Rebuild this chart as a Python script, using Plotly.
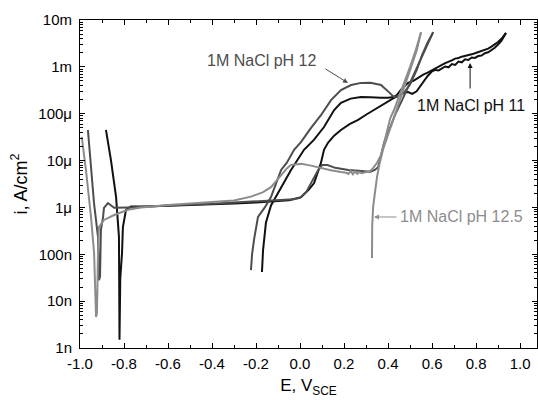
import numpy as np
import plotly.graph_objects as go

# ---------------- data (E in V vs SCE, i in A/cm2) ----------------
E_ph11_fwd = [-0.882, -0.859, -0.836, -0.823, -0.8205, -0.817, -0.809, -0.805, -0.791, -0.768,
              -0.70, -0.60, -0.50, -0.40, -0.30, -0.20, -0.10, -0.05, 0.005, 0.04, 0.064, 0.082,
              0.095, 0.109, 0.127, 0.155, 0.186, 0.225, 0.264, 0.30, 0.336, 0.38, 0.427, 0.45,
              0.47, 0.491, 0.51, 0.53, 0.545, 0.559, 0.58,
              0.60, 0.615, 0.63, 0.645, 0.66, 0.675, 0.69, 0.705, 0.72, 0.735, 0.75, 0.765, 0.78,
              0.795, 0.81, 0.825, 0.84, 0.855, 0.87, 0.885, 0.90, 0.915, 0.936]
i_ph11_fwd = [45e-6, 10e-6, 1.66e-6, 2.35e-7, 1.5e-9, 3e-8, 1.07e-7, 3.8e-7, 8.9e-7, 1.05e-6,
              1.05e-6, 1.08e-6, 1.12e-6, 1.17e-6, 1.22e-6, 1.28e-6, 1.35e-6, 1.42e-6, 1.66e-6, 2.4e-6,
              3.3e-6, 6.3e-6, 8.9e-6, 17e-6, 24e-6, 34e-6, 45e-6, 60e-6, 74e-6, 95e-6, 120e-6, 165e-6,
              218e-6, 240e-6, 285e-6, 290e-6, 265e-6, 300e-6, 380e-6, 455e-6, 640e-6,
              0.80e-3, 0.86e-3, 0.84e-3, 0.92e-3, 1.02e-3, 0.98e-3, 1.15e-3, 1.10e-3, 1.30e-3, 1.25e-3,
              1.45e-3, 1.40e-3, 1.58e-3, 1.55e-3, 1.70e-3, 1.75e-3, 1.95e-3, 2.05e-3, 2.30e-3, 2.55e-3,
              3.0e-3, 3.6e-3, 5.3e-3]

E_ph11_rev = [0.936, 0.92, 0.90, 0.885, 0.87, 0.855, 0.84, 0.825, 0.81, 0.795, 0.78, 0.765, 0.75,
              0.735, 0.72, 0.705, 0.69, 0.675, 0.66, 0.645, 0.63, 0.615, 0.60, 0.58, 0.56, 0.536,
              0.515, 0.491, 0.46, 0.44, 0.427, 0.40, 0.368, 0.32, 0.277, 0.23, 0.186, 0.155, 0.141,
              0.109, 0.064, 0.018, -0.041, -0.10, -0.132, -0.155, -0.168, -0.173]
i_ph11_rev = [5.3e-3, 4.2e-3, 3.4e-3, 3.0e-3, 2.7e-3, 2.45e-3, 2.3e-3, 2.15e-3, 2.0e-3, 1.95e-3,
              1.85e-3, 1.8e-3, 1.7e-3, 1.65e-3, 1.55e-3, 1.5e-3, 1.38e-3, 1.3e-3, 1.2e-3, 1.1e-3,
              1.0e-3, 0.92e-3, 0.86e-3, 750e-6, 680e-6, 575e-6, 500e-6, 455e-6, 330e-6, 250e-6,
              228e-6, 220e-6, 218e-6, 225e-6, 228e-6, 210e-6, 170e-6, 120e-6, 93e-6, 52e-6, 28e-6,
              17e-6, 6.3e-6, 2.0e-6, 1.1e-6, 4.7e-7, 1.23e-7, 4.2e-8]

E_ph12_fwd = [-0.964, -0.950, -0.936, -0.918, -0.914, -0.909, -0.905, -0.895, -0.891, -0.873,
              -0.845, -0.782, -0.70, -0.60, -0.50, -0.40, -0.30, -0.20, -0.10, -0.03, 0.0, 0.03,
              0.05, 0.08, 0.10, 0.125, 0.16, 0.22, 0.28, 0.32, 0.34, 0.355, 0.382, 0.41, 0.436,
              0.465, 0.491, 0.52, 0.55, 0.58, 0.605]
i_ph12_fwd = [45e-6, 6.3e-6, 1.2e-6, 2.3e-7, 2.8e-8, 3.3e-8, 3.3e-7, 6.3e-7, 9.8e-7, 1.24e-6,
              9.8e-7, 1.0e-6, 1.05e-6, 1.1e-6, 1.15e-6, 1.2e-6, 1.27e-6, 1.33e-6, 1.42e-6, 1.5e-6,
              1.6e-6, 2.2e-6, 3.3e-6, 6.0e-6, 8.0e-6, 8.0e-6, 7.0e-6, 6.3e-6, 6.0e-6, 5.8e-6,
              6.3e-6, 7.2e-6, 24e-6, 50e-6, 105e-6, 200e-6, 370e-6, 750e-6, 1.6e-3, 3.2e-3, 5.5e-3]

E_ph12_rev = [0.605, 0.58, 0.555, 0.53, 0.50, 0.47, 0.445, 0.427, 0.40, 0.368, 0.32, 0.277,
              0.232, 0.186, 0.141, 0.095, 0.05, 0.005, -0.027, -0.06, -0.086, -0.11, -0.132,
              -0.16, -0.191, -0.209, -0.218, -0.223]
i_ph12_rev = [5.5e-3, 3.3e-3, 1.8e-3, 850e-6, 420e-6, 270e-6, 235e-6, 228e-6, 300e-6, 410e-6,
              460e-6, 455e-6, 410e-6, 320e-6, 195e-6, 93e-6, 50e-6, 25e-6, 17e-6, 9e-6, 6.3e-6,
              3.3e-6, 1.66e-6, 1.0e-6, 6.3e-7, 2.05e-7, 1.0e-7, 4.6e-8]

E_ph125_fwd = [-0.992, -0.973, -0.950, -0.936, -0.927, -0.923, -0.918, -0.914, -0.891, -0.845,
               -0.782, -0.723, -0.60, -0.50, -0.40, -0.30, -0.223, -0.17, -0.132, -0.086, -0.06,
               -0.041, 0.005, 0.05, 0.095, 0.14, 0.186, 0.21, 0.22, 0.23, 0.24, 0.25, 0.26, 0.27,
               0.28, 0.30, 0.32, 0.332, 0.35, 0.368, 0.39, 0.41, 0.427, 0.45, 0.473, 0.50, 0.525,
               0.55]
i_ph125_fwd = [32e-6, 6.3e-6, 6.3e-7, 1.07e-7, 4.6e-9, 5.6e-9, 1.07e-7, 3.8e-7, 5.4e-7, 6.9e-7,
               8.9e-7, 1.0e-6, 1.12e-6, 1.2e-6, 1.28e-6, 1.4e-6, 1.7e-6, 2.1e-6, 2.7e-6, 4.9e-6,
               6.8e-6, 8.1e-6, 8.5e-6, 7.8e-6, 6.9e-6, 6.2e-6, 5.7e-6, 5.5e-6, 5.2e-6, 6.0e-6,
               5.1e-6, 5.9e-6, 5.2e-6, 5.7e-6, 5.4e-6, 5.6e-6, 6.0e-6, 6.9e-6, 9e-6, 13e-6, 35e-6,
               80e-6, 120e-6, 230e-6, 455e-6, 1.0e-3, 2.2e-3, 5.5e-3]

E_ph125_rev = [0.55, 0.53, 0.505, 0.48, 0.455, 0.433, 0.414, 0.395, 0.377, 0.36, 0.35, 0.34,
               0.332, 0.328, 0.327, 0.327]
i_ph125_rev = [5.5e-3, 2.2e-3, 1.0e-3, 455e-6, 200e-6, 100e-6, 58e-6, 30e-6, 17e-6, 8e-6,
               4.5e-6, 2.0e-6, 1.0e-6, 4.0e-7, 1.5e-7, 8.3e-8]

x_tickvals = [-1.0, -0.8, -0.6, -0.4, -0.2, 0.0, 0.2, 0.4, 0.6, 0.8, 1.0]
x_ticktext = ["-1.0", "-0.8", "-0.6", "-0.4", "-0.2", "0.0", "0.2", "0.4", "0.6", "0.8", "1.0"]
y_tickvals = [1e-9, 1e-8, 1e-7, 1e-6, 1e-5, 1e-4, 1e-3, 1e-2]
y_ticktext = ["1n", "10n", "100n", "1μ", "10μ", "100μ", "1m", "10m"]

labels = ["1M NaCl pH 11", "1M NaCl pH 12", "1M NaCl pH 12.5"]

# ---------------- figure ----------------
FONT = "Liberation Sans, Arial, sans-serif"
c11, c12, c125 = "#111111", "#4d4d4d", "#8c8c8c"

fig = go.Figure()
series = [
    (E_ph11_fwd, i_ph11_fwd, c11), (E_ph11_rev, i_ph11_rev, c11),
    (E_ph12_fwd, i_ph12_fwd, c12), (E_ph12_rev, i_ph12_rev, c12),
    (E_ph125_fwd, i_ph125_fwd, c125), (E_ph125_rev, i_ph125_rev, c125),
]
for E, i, c in series:
    fig.add_trace(go.Scatter(x=E, y=i, mode="lines", line=dict(color=c, width=2),
                             showlegend=False, hoverinfo="skip"))

def arrow(x, y, ax, ay, color):
    fig.add_annotation(x=x, y=np.log10(y), ax=ax, ay=ay, axref="pixel", ayref="pixel",
                       text="", showarrow=True, arrowhead=2, arrowsize=1, arrowwidth=1,
                       arrowcolor=color, standoff=0)

def label(x, y, text, color):
    fig.add_annotation(x=x, y=np.log10(y), text=text, showarrow=False, xanchor="left",
                       yanchor="middle", font=dict(family=FONT, size=16, color=color))

arrow(0.218, 4.53e-4, -24, -15, c12)
label(-0.430, 1.40e-3, labels[1], c12)
arrow(0.773, 1.21e-3, 0, 27, c11)
label(0.522, 1.53e-4, labels[0], c11)
arrow(0.336, 6.25e-7, 24, 0, c125)
label(0.444, 6.25e-7, labels[2], c125)

axis_common = dict(showline=True, linecolor="black", linewidth=1, mirror="ticks",
                   ticks="inside", ticklen=5, tickcolor="black", showgrid=False,
                   zeroline=False, tickfont=dict(family=FONT, size=15, color="black"),
                   automargin=False)

fig.update_xaxes(range=[-1.0, 1.077], tickmode="array", tickvals=x_tickvals,
                 ticktext=x_ticktext, ticklabelstandoff=2,
                 minor=dict(ticks="inside", ticklen=3, dtick=0.1, tick0=-1.0, tickcolor="black"),
                 title=dict(text="E, V<sub>SCE</sub>", font=dict(family=FONT, size=17),
                            standoff=8),
                 **axis_common)
fig.update_yaxes(type="log", range=[-9, -2], tickmode="array", tickvals=y_tickvals,
                 ticktext=y_ticktext, ticklabelstandoff=4,
                 minor=dict(ticks="inside", ticklen=3, dtick="D1", tickcolor="black"),
                 title=dict(text="i, A/cm<sup>2</sup>", font=dict(family=FONT, size=18),
                            standoff=6),
                 **axis_common)

fig.update_layout(width=538, height=400, margin=dict(l=80, r=1, t=20, b=52),
                  plot_bgcolor="white", paper_bgcolor="white",
                  font=dict(family=FONT, color="black"))

fig.write_html("out.html", config={"displayModeBar": False},
               post_script="document.body.style.margin='0px';")
